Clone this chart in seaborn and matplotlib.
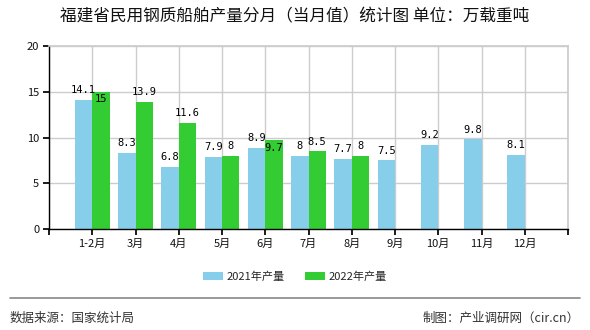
import numpy as np
import pandas as pd
import matplotlib
matplotlib.use("Agg")
import matplotlib.pyplot as plt
import seaborn as sns
from matplotlib.patches import Patch

months = ["1-2月", "3月", "4月", "5月", "6月", "7月", "8月", "9月", "10月", "11月", "12月"]
output_2021 = [14.1, 8.3, 6.8, 7.9, 8.9, 8, 7.7, 7.5, 9.2, 9.8, 8.1]
output_2022 = [15, 13.9, 11.6, 8, 9.7, 8.5, 8, np.nan, np.nan, np.nan, np.nan]
series_names = ["2021年产量", "2022年产量"]
y_ticks = [0, 5, 10, 15, 20]

title = "福建省民用钢质船舶产量分月（当月值）统计图 单位：万载重吨"
source_text = "数据来源：国家统计局"
credit_text = "制图：产业调研网（cir.cn）"

colors = ["#87CEEB", "#33CC33"]

df = pd.DataFrame({
    "month": months * 2,
    "series": [series_names[0]] * len(months) + [series_names[1]] * len(months),
    "value": output_2021 + output_2022,
})

sns.set_theme(style="white")
plt.rcParams["font.family"] = ["Noto Sans CJK SC", "DejaVu Sans"]

fig = plt.figure(figsize=(5.9, 3.3), dpi=100)
ax = fig.add_axes([49 / 590, 1 - 229 / 330, (568 - 49) / 590, (229 - 46) / 330])

sns.barplot(data=df, x="month", y="value", hue="series", order=months,
            hue_order=series_names, palette=colors, width=0.8, saturation=1,
            ax=ax, legend=False, errorbar=None, edgecolor="none", linewidth=0)

ax.set_xlim(-1, 11)
ax.set_ylim(0, 20)
ax.set_yticks(y_ticks)
ax.set_xticks(range(-1, 12))
ax.set_xticklabels([""] + months + [""])
ax.set_xlabel("")
ax.set_ylabel("")
ax.grid(True, color="#cccccc", linewidth=1)
ax.set_axisbelow(True)
for side in ["top", "right"]:
    ax.spines[side].set_color("#cccccc")
for side in ["left", "bottom"]:
    ax.spines[side].set_color("black")
    ax.spines[side].set_linewidth(1)
ax.tick_params(axis="both", which="both", length=4, color="black", labelsize=8,
               labelcolor="#111111", direction="out", bottom=True, left=True, pad=3)

label_font = dict(family="DejaVu Sans Mono", fontsize=7.5, color="black")
# 2022 labels that sit inside the top of the bar so they clear the neighbour's label
inside = {0, 4}
for i, v in enumerate(output_2021):
    ax.text(i - 0.2, v + 0.5, f"{v:g}", ha="center", va="bottom", **label_font)
for i, v in enumerate(output_2022):
    if np.isnan(v):
        continue
    if i in inside:
        ax.text(i + 0.2, v - 0.3, f"{v:g}", ha="center", va="top", **label_font)
    else:
        ax.text(i + 0.2, v + 0.5, f"{v:g}", ha="center", va="bottom", **label_font)

fig.text(0.5, 1 - 17 / 330, title, ha="center", va="center", fontsize=12, color="#111111")

handles = [Patch(facecolor=c, edgecolor="none") for c in colors]
fig.legend(handles, series_names, loc="center", bbox_to_anchor=(0.5, 1 - 277 / 330),
           ncol=2, frameon=False, fontsize=8, handlelength=1.8, handleheight=0.7,
           columnspacing=1.8, handletextpad=0.3)

fig.add_artist(plt.Line2D([10 / 590, 580 / 590], [1 - 298 / 330, 1 - 298 / 330],
                          color="#888888", linewidth=1.2, transform=fig.transFigure))
fig.text(10 / 590, 1 - 318 / 330, source_text, ha="left", va="center", fontsize=9, color="#333333")
fig.text(580 / 590, 1 - 318 / 330, credit_text, ha="right", va="center", fontsize=9, color="#333333")

fig.savefig("out.png", dpi=100)
